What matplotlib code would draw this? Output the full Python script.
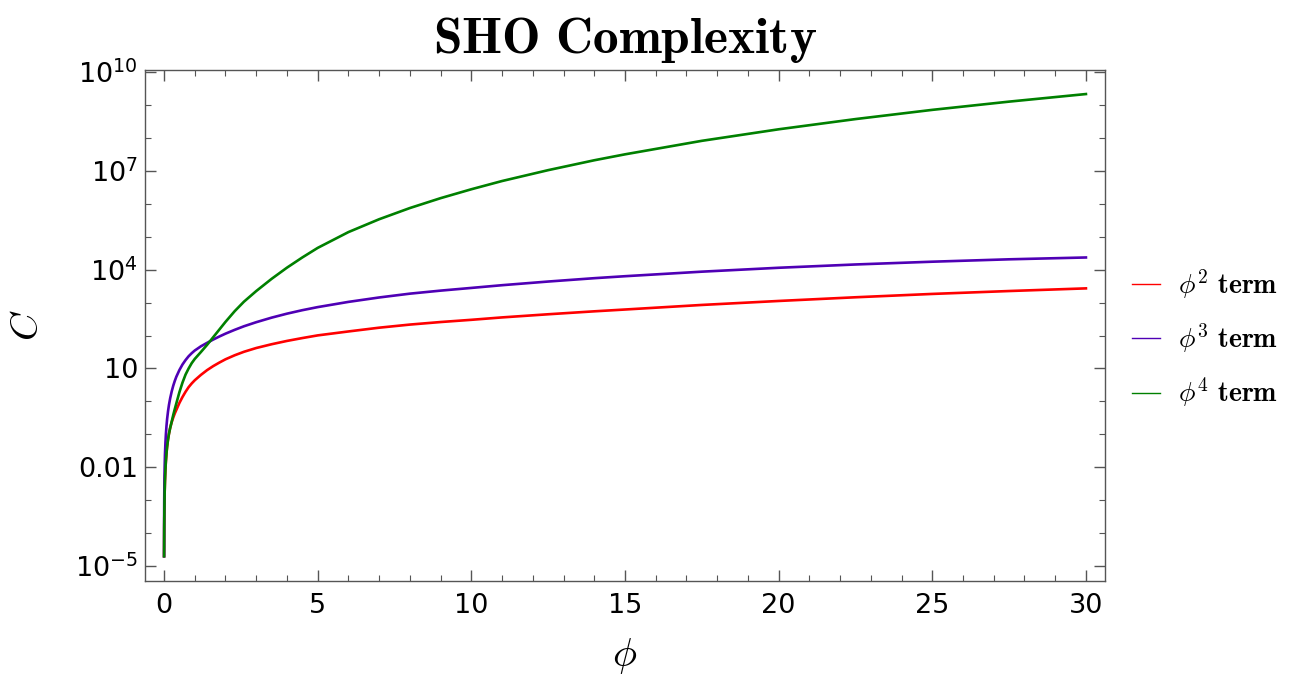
import numpy as np
import matplotlib
matplotlib.use("Agg")
import matplotlib.pyplot as plt
from matplotlib.ticker import FixedLocator, FixedFormatter

plt.rcParams['mathtext.fontset'] = 'cm'
plt.rcParams['font.family'] = ['DejaVu Sans']

# values (phi, C)
phi = [0.001, 0.003, 0.006, 0.01, 0.015, 0.02, 0.03, 0.045, 0.06, 0.08,
       0.1, 0.13, 0.16, 0.2, 0.25, 0.3, 0.35, 0.4, 0.5, 0.6, 0.7, 0.8,
       0.9, 1.0, 1.2, 1.4, 1.6, 1.8, 2.0, 2.3, 2.6, 3.0, 3.5, 4.0, 4.5,
       5, 6, 7, 8, 9, 10, 11, 12.5, 14, 15, 17.5, 20, 22.5, 25, 27.5, 30]

c_phi2 = [2.0e-5, 3.8e-5, 1.53e-4, 4.24e-4, 9.5e-4, 1.7e-3, 3.8e-3,
          8.6e-3, 1.53e-2, 2.71e-2, 4.24e-2, 7.0e-2, 0.104, 0.158,
          0.236, 0.325, 0.432, 0.551, 0.90, 1.36, 1.96, 2.71, 3.51,
          4.39, 6.39, 8.90, 11.8, 15.1, 19.0, 25.2, 32.1, 41.8, 54.4,
          68.6, 83.8, 101, 133, 173, 215, 257, 300, 355, 442, 543, 616,
          848, 1120, 1450, 1832, 2244, 2700]

c_phi3 = [2.0e-5, 2.34e-4, 9.4e-4, 2.6e-3, 5.9e-3, 1.05e-2, 2.4e-2,
          5.5e-2, 0.100, 0.182, 0.292, 0.504, 0.782, 1.25, 2.02, 3.01,
          4.20, 5.61, 8.97, 13.2, 18.0, 23.5, 29.1, 35.1, 47.1, 59.9,
          75.5, 93.4, 114, 149, 191, 254, 349, 461, 588, 729, 1050, 1430,
          1867, 2308, 2787, 3372, 4355, 5504, 6318, 8679, 11400, 14350,
          17420, 20590, 23400]

c_phi4 = [2.0e-5, 3.8e-5, 1.53e-4, 4.24e-4, 9.5e-4, 1.7e-3, 3.8e-3,
          8.6e-3, 1.53e-2, 2.71e-2, 4.24e-2, 7.0e-2, 0.104, 0.158,
          0.245, 0.389, 0.589, 0.871, 1.905, 3.715, 6.53, 10.0, 14.5,
          19.5, 31.6, 52.0, 89.0, 152.0, 260, 550, 1065, 2239, 5250,
          11480, 23440, 45710, 1.380e5, 3.388e5, 7.413e5, 1.479e6,
          2.754e6, 4.898e6, 1.047e7, 2.089e7, 3.162e7, 8.128e7, 1.820e8,
          3.715e8, 7.079e8, 1.259e9, 2.138e9]

labels = [r'$\phi^{\mathbf{2}}\ \mathbf{term}$',
          r'$\phi^{\mathbf{3}}\ \mathbf{term}$',
          r'$\phi^{\mathbf{4}}\ \mathbf{term}$']
colors = ['#FF0000', '#4F00B5', '#008000']

ytick_vals = [1e-5, 1e-2, 1e1, 1e4, 1e7, 1e10]
ytick_text = [r'$\mathregular{10^{-5}}$', '0.01', '10',
              r'$\mathregular{10^{4}}$', r'$\mathregular{10^{7}}$',
              r'$\mathregular{10^{10}}$']

fig = plt.figure(figsize=(12.98, 6.75), dpi=100)
ax = fig.add_axes([0.1117, 0.1393, 0.7396, 0.757])

for ys, lab, col in zip([c_phi2, c_phi3, c_phi4], labels, colors):
    ax.plot(phi, ys, color=col, lw=1.9, label=lab)

ax.set_yscale('log')
ax.set_xlim(-0.62, 30.62)
ax.set_ylim(10**-5.45, 10**10.06)

ax.yaxis.set_major_locator(FixedLocator(ytick_vals))
ax.yaxis.set_major_formatter(FixedFormatter(ytick_text))
ax.yaxis.set_minor_locator(FixedLocator([10.0**k for k in range(-5, 11)]))
ax.yaxis.set_minor_formatter(plt.NullFormatter())
ax.set_xticks([0, 5, 10, 15, 20, 25, 30])
ax.set_xticks(np.arange(0, 31, 1), minor=True)

ax.tick_params(which='both', direction='in', top=True, right=True,
               color='#555555')
ax.tick_params(which='major', length=8, width=1.0, labelsize=19.5)
ax.tick_params(axis='y', which='major', pad=5)
ax.tick_params(axis='x', which='major', pad=9)
ax.tick_params(which='minor', length=4.5, width=0.8)
for s in ax.spines.values():
    s.set_color('#555555')
    s.set_linewidth(1.0)

ax.set_title(r'$\mathbf{SHO\ Complexity}$', fontsize=37, pad=12)
ax.set_xlabel(r'$\phi$', fontsize=29)
ax.set_ylabel(r'$C$', fontsize=28)
ax.xaxis.set_label_coords(0.5, -0.108)
ax.yaxis.set_label_coords(-0.103, 0.5)

leg = fig.legend(loc='center left', bbox_to_anchor=(0.853, 0.499),
                 frameon=False, fontsize=20, handlelength=1.0,
                 handletextpad=0.65, labelspacing=0.75)
for h in leg.get_lines():
    h.set_linewidth(1.0)

fig.savefig('out.png', dpi=100)
